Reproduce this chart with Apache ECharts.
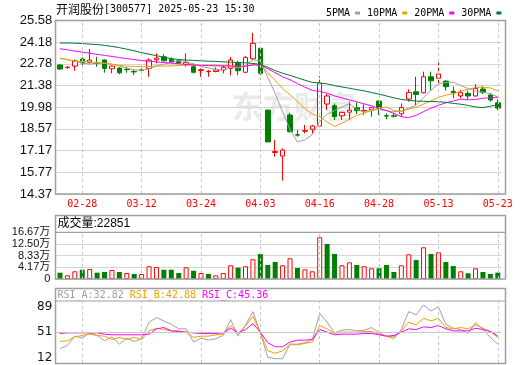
<!DOCTYPE html>
<html><head><meta charset="utf-8">
<script src="https://cdn.jsdelivr.net/npm/echarts@6/dist/echarts.min.js"></script>
<style>html,body{margin:0;padding:0;background:#fff}#c{width:520px;height:365px}</style>
</head><body><div id="c"></div>
<script>
const stockName = '开润股份';
const stockCode = '[300577]';
const stampText = '2025-05-23 15:30';
const dates = ['02-25','02-26','02-27','02-28','03-03','03-04','03-05','03-06','03-07','03-10','03-11','03-12','03-13','03-14','03-17','03-18','03-19','03-20','03-21','03-24','03-25','03-26','03-27','03-28','03-31','04-01','04-02','04-03','04-07','04-08','04-09','04-10','04-11','04-14','04-15','04-16','04-17','04-18','04-21','04-22','04-23','04-24','04-25','04-28','04-29','04-30','05-06','05-07','05-08','05-09','05-12','05-13','05-14','05-15','05-16','05-19','05-20','05-21','05-22','05-23'];
const labelDates = ['02-28','03-12','03-24','04-03','04-16','04-28','05-13','05-23'];
const openP  = [22.70,22.53,22.63,23.08,22.87,22.83,23.02,22.46,22.50,22.42,22.28,22.38,22.48,23.04,23.23,23.07,22.98,22.72,22.59,22.35,22.27,22.28,22.38,22.48,22.81,22.23,23.10,23.78,19.79,17.05,16.82,19.47,18.20,18.42,18.55,18.76,20.18,20.07,19.42,19.66,19.94,19.73,19.79,20.37,19.43,19.42,19.55,20.50,20.97,20.91,21.94,21.84,21.66,21.00,20.70,20.87,20.70,21.15,20.76,20.26];
const closeP = [22.44,22.56,22.96,22.83,23.02,22.80,22.48,22.63,22.20,22.40,22.25,22.36,23.02,23.15,22.97,22.89,22.83,22.85,22.23,22.40,22.29,22.38,22.55,23.02,22.33,23.19,24.10,22.16,17.73,17.12,17.21,18.39,18.17,18.46,18.76,21.52,20.70,19.36,19.64,19.79,19.75,19.77,19.94,19.92,19.40,19.39,19.95,20.92,20.80,21.94,21.68,22.12,21.30,20.90,20.92,20.70,21.19,20.93,20.44,19.92];
const lowP   = [22.36,22.45,22.33,22.61,22.80,22.59,22.20,22.16,22.10,22.20,22.05,22.20,21.94,22.81,22.92,22.81,22.75,22.59,22.16,21.94,21.94,22.23,22.16,22.02,22.05,22.20,23.02,22.05,17.73,16.78,15.23,18.35,18.07,18.29,18.29,18.70,19.79,19.15,19.15,19.15,19.53,19.47,19.36,19.47,19.19,19.32,19.36,20.33,20.12,20.87,21.08,21.47,21.04,20.55,20.55,20.48,20.65,20.82,20.33,19.80];
const highP  = [22.75,22.62,23.07,23.19,23.73,23.23,23.05,22.66,22.55,22.57,22.42,22.48,23.13,23.45,23.39,23.19,23.05,23.45,22.81,22.48,22.38,22.55,22.70,23.23,22.97,23.28,24.78,23.80,19.79,17.86,17.32,19.62,18.50,18.83,18.83,21.99,20.83,20.22,19.68,20.33,20.27,20.16,20.00,20.40,19.58,19.62,20.22,21.13,21.94,22.27,22.27,22.85,21.70,21.30,21.08,21.04,21.47,21.34,20.90,20.48];
const ma5  = [23.13,23.05,22.95,22.83,22.76,22.83,22.82,22.75,22.63,22.50,22.39,22.37,22.45,22.64,22.75,22.88,22.97,22.93,22.74,22.62,22.51,22.43,22.37,22.53,22.51,22.69,23.04,22.96,21.91,20.86,19.67,18.53,17.73,17.87,18.20,19.06,19.52,19.76,20.00,20.20,19.85,19.66,19.78,19.83,19.75,19.68,19.72,19.92,20.10,20.60,21.06,21.49,21.57,21.58,21.38,21.18,21.02,20.94,20.84,20.64];
const ma10 = [23.15,23.05,22.95,22.92,22.90,22.85,22.80,22.75,22.68,22.63,22.61,22.59,22.60,22.63,22.63,22.64,22.67,22.69,22.69,22.69,22.70,22.70,22.65,22.64,22.57,22.61,22.73,22.67,22.22,21.69,21.18,20.78,20.34,19.89,19.53,19.36,19.02,18.74,18.93,19.20,19.45,19.59,19.77,19.92,19.98,19.77,19.70,19.85,19.97,20.18,20.38,20.61,20.75,20.85,21.00,21.13,21.25,21.26,21.22,21.02];
const ma20 = [23.75,23.68,23.60,23.53,23.46,23.39,23.32,23.25,23.18,23.11,23.05,22.99,22.94,22.90,22.86,22.82,22.78,22.74,22.70,22.67,22.66,22.65,22.63,22.64,22.61,22.62,22.71,22.68,22.46,22.20,21.94,21.75,21.50,21.27,21.06,20.99,20.88,20.70,20.58,20.44,20.32,20.19,20.06,19.90,19.76,19.57,19.36,19.30,19.45,19.69,19.91,20.10,20.26,20.38,20.49,20.45,20.47,20.55,20.59,20.60];
const ma30 = [24.12,24.12,24.11,24.08,24.05,24.02,23.97,23.90,23.82,23.72,23.62,23.50,23.40,23.30,23.20,23.10,23.06,23.02,23.00,22.97,22.95,22.93,22.90,22.88,22.86,22.84,22.80,22.74,22.55,22.34,22.17,22.03,21.87,21.72,21.58,21.54,21.48,21.37,21.28,21.20,21.11,21.03,20.92,20.82,20.70,20.58,20.48,20.42,20.37,20.36,20.34,20.33,20.29,20.22,20.17,20.09,19.99,19.95,20.04,20.13];
const volume = [22500,13200,27500,33200,35700,22500,25000,32100,25000,21400,17900,17900,45400,42900,33200,33200,21400,41800,29600,21400,17900,13200,21400,48900,40400,45400,70400,89300,50000,60700,48900,73900,39300,34600,27500,148900,125000,89300,48900,59600,50000,45400,38200,38200,50000,25000,48900,88200,67900,113200,89300,95400,60700,46400,27500,20400,38200,25000,17900,22851];
const rsiA = [26,31,45,42,50,46,38,44,33,42,37,41,66,73,68,63,56,56,36,42,39,41,46,70,45,62,82,50,13,11,11,33,33,35,40,79,66,50,54,55,53,54,58,50,45,41,55,82,77,92,83,89,63,57,55,49,65,55,43,32.82];
const rsiB = [37,38,44,46,48,46,45,40,43,40,43,40,53,57,55,53,53,51,43,45,45,47,48,61,49,60,75,50,23,19,23,32,32,34,36,61,56,49,51,51,51,52,52,48,45,44,53,66,62,72,68,72,58,56,58,56,62,57,52,42.88];
const rsiC = [49,50,50,50,50,50,48,47,47,47,47,47,48,56,58,53,52,51,50,49,49,49,50,57,50,55,64,51,35,29,29,36,39,39,40,55,51,47,48,48,48,49,49,47,45,46,51,56,55,59,58,61,56,53,53,53,57,55,52,45.36];
const priceTicks = ['14.37','15.77','17.17','18.57','19.98','21.38','22.78','24.18','25.58'];
const volumeTicks = ['0','4.17万','8.33万','12.50万','16.67万'];
const rsiTicks = [12, 51, 89];
const rsiMid = 51;

const RED = '#ff0000', GREEN = '#008000';
const C5 = '#a0a0a0', C10 = '#f0a000', C20 = '#ff00ff', C30 = '#00782d';
const chart = echarts.init(document.getElementById('c'), null, {renderer: 'canvas'});

const candleData = dates.map((d, i) => [openP[i], closeP[i], lowP[i], highP[i]]);
const volData = volume.map((v, i) => {
  const up = i === 0 ? closeP[i] >= openP[i] : closeP[i] >= closeP[i - 1];
  return {value: v, itemStyle: up ? {color: '#fff', borderColor: RED, borderWidth: 1} : {color: GREEN, borderWidth: 0}};
});
const vMarks = labelDates.map(d => ({xAxis: d}));
const vMarkLine = {silent: true, symbol: ['none', 'none'], animation: false, label: {show: false},
  lineStyle: {type: [3, 3], color: '#c8c8c8', width: 1}, emphasis: {disabled: true}, data: vMarks};

const GL = 56.3, GW = 445.2;
const grid = [
  {left: GL, top: 20.4, width: GW, height: 173.6},
  {left: GL, top: 232.3, width: GW, height: 46.7},
  {left: GL, top: 301, width: GW, height: 62}
];
const xBase = (gi) => ({type: 'category', gridIndex: gi, data: dates, boundaryGap: true,
  axisLine: {show: false}, axisTick: {show: false}, splitLine: {show: false},
  axisLabel: {show: false}});
const x0 = xBase(0);
x0.axisLabel = {show: true, color: RED, fontFamily: 'DejaVu Sans Mono', fontSize: 10, margin: 5,
  interval: (idx) => labelDates.indexOf(dates[idx]) >= 0, hideOverlap: false};

const volStep = 41670;
const option = {
  animation: false,
  backgroundColor: '#fff',
  grid: grid,
  legend: {left: 321, top: 3, align: 'right', icon: 'rect', itemWidth: 5, itemHeight: 3, itemGap: 7,
    data: ['5PMA', '10PMA', '20PMA', '30PMA'], selectedMode: false,
    textStyle: {fontFamily: 'DejaVu Sans Mono', fontSize: 10, color: '#000', padding: 0}},
  xAxis: [x0, xBase(1), xBase(2)],
  yAxis: [
    {type: 'value', gridIndex: 0, position: 'right', min: +priceTicks[0], max: +priceTicks[priceTicks.length - 1], show: false, splitLine: {show: false}},
    {type: 'value', gridIndex: 0, position: 'left', min: 0, max: priceTicks.length - 1, interval: 1,
      axisLine: {show: false}, axisTick: {show: false},
      axisLabel: {formatter: (v) => priceTicks[Math.round(v)], color: '#111', fontFamily: 'Liberation Sans', fontSize: 13, margin: 4},
      splitLine: {lineStyle: {color: '#d4d4d4', width: 1}}},
    {type: 'value', gridIndex: 1, position: 'left', min: 0, max: volStep * 4, interval: volStep,
      axisLine: {show: false}, axisTick: {show: false},
      axisLabel: {formatter: (v) => volumeTicks[Math.round(v / volStep)], color: '#111', fontFamily: 'Liberation Sans, Noto Sans CJK SC', fontSize: 11, margin: 6},
      splitLine: {lineStyle: {color: '#d4d4d4', width: 1}}},
    {type: 'value', gridIndex: 2, position: 'left', min: 4.45, max: 98.06,
      axisLine: {show: false}, axisTick: {show: false},
      axisLabel: {customValues: rsiTicks, color: '#111', fontFamily: 'DejaVu Sans', fontSize: 12, margin: 4},
      splitLine: {show: false}}
  ],
  series: [
    {type: 'candlestick', name: 'K', xAxisIndex: 0, yAxisIndex: 0, data: candleData, barWidth: 5,
      itemStyle: {color: '#fff', color0: GREEN, borderColor: RED, borderColor0: GREEN, borderWidth: 1},
      markLine: vMarkLine, z: 3},
    {type: 'line', name: '5PMA', xAxisIndex: 0, yAxisIndex: 0, data: ma5, symbol: 'none', color: C5, lineStyle: {width: 1, color: C5}, z: 4},
    {type: 'line', name: '10PMA', xAxisIndex: 0, yAxisIndex: 0, data: ma10, symbol: 'none', color: C10, lineStyle: {width: 1, color: C10}, z: 4},
    {type: 'line', name: '20PMA', xAxisIndex: 0, yAxisIndex: 0, data: ma20, symbol: 'none', color: C20, lineStyle: {width: 1, color: C20}, z: 4},
    {type: 'line', name: '30PMA', xAxisIndex: 0, yAxisIndex: 0, data: ma30, symbol: 'none', color: C30, lineStyle: {width: 1, color: C30}, z: 4},
    {type: 'bar', name: 'VOL', xAxisIndex: 1, yAxisIndex: 2, data: volData, barWidth: 5, markLine: vMarkLine, z: 3},
    {type: 'line', name: 'RSI_A', xAxisIndex: 2, yAxisIndex: 3, data: rsiA, symbol: 'none', lineStyle: {width: 1, color: C5}, z: 4,
      markLine: Object.assign({}, vMarkLine, {data: vMarks.concat([{yAxis: rsiMid, lineStyle: {type: 'solid', color: '#c8c8c8', width: 1}}])})},
    {type: 'line', name: 'RSI_B', xAxisIndex: 2, yAxisIndex: 3, data: rsiB, symbol: 'none', lineStyle: {width: 1, color: C10}, z: 4},
    {type: 'line', name: 'RSI_C', xAxisIndex: 2, yAxisIndex: 3, data: rsiC, symbol: 'none', lineStyle: {width: 1, color: C20}, z: 4}
  ],
  graphic: [
    {type: 'text', x: 232, y: 106, z: 0, silent: true,
      style: {text: '东方财富', font: 'bold 31px "Noto Sans CJK SC"', fill: 'rgba(185,185,195,0.3)', verticalAlign: 'middle'}},
    {type: 'text', x: 56, y: 9, z: 10, silent: true,
      style: {text: '{a|' + stockName + '}{b|' + stockCode + ' ' + stampText + '}', verticalAlign: 'middle',
        rich: {a: {font: '12px "Noto Sans CJK SC"', fill: '#000'}, b: {font: '10px "DejaVu Sans Mono"', fill: '#000'}}}},
    {type: 'text', x: 57.5, y: 223.5, z: 10, silent: true,
      style: {text: '成交量:' + volume[volume.length - 1], font: '12px "Liberation Sans", "Noto Sans CJK SC"', fill: '#000', verticalAlign: 'middle'}},
    {type: 'text', x: 57.5, y: 295, z: 10, silent: true,
      style: {text: '{a|RSI_A:' + rsiA[rsiA.length - 1].toFixed(2) + '} {b|RSI_B:' + rsiB[rsiB.length - 1].toFixed(2) + '} {c|RSI_C:' + rsiC[rsiC.length - 1].toFixed(2) + '}',
        font: '10px "DejaVu Sans Mono"', verticalAlign: 'middle',
        rich: {a: {font: '10px "DejaVu Sans Mono"', fill: C5}, b: {font: '10px "DejaVu Sans Mono"', fill: C10}, c: {font: '10px "DejaVu Sans Mono"', fill: C20}}}},
    {type: 'rect', z: 50, silent: true, shape: {x: 55.5, y: 20.5, width: 450, height: 173.5}, style: {fill: 'none', stroke: '#a0a0a0', lineWidth: 1.5}},
    {type: 'rect', z: 50, silent: true, shape: {x: 55.5, y: 215.5, width: 450, height: 63.5}, style: {fill: 'none', stroke: '#a0a0a0', lineWidth: 1.5}},
    {type: 'line', z: 50, silent: true, shape: {x1: 55.5, y1: 232.3, x2: 505.5, y2: 232.3}, style: {stroke: '#a0a0a0', lineWidth: 1.2}},
    {type: 'rect', z: 50, silent: true, shape: {x: 55.5, y: 288.5, width: 450, height: 75}, style: {fill: 'none', stroke: '#a0a0a0', lineWidth: 1.5}},
    {type: 'line', z: 50, silent: true, shape: {x1: 55.5, y1: 301, x2: 505.5, y2: 301}, style: {stroke: '#a0a0a0', lineWidth: 1.2}}
  ]
};
chart.setOption(option);
</script>
</body></html>
